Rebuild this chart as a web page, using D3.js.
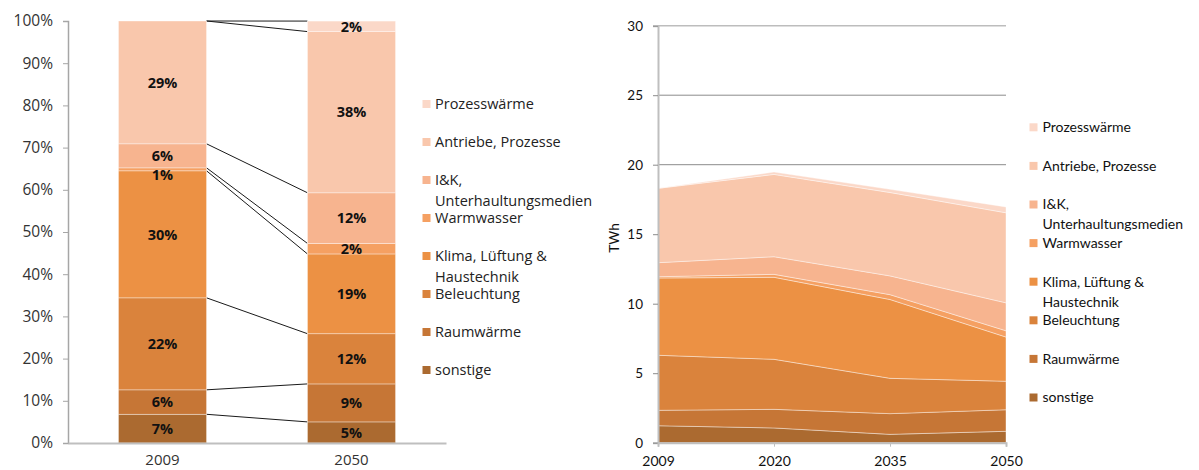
<!DOCTYPE html>
<html>
<head>
<meta charset="utf-8">
<script src="https://cdn.jsdelivr.net/npm/d3@7"></script>
<style>
  html, body { margin: 0; padding: 0; background: #fff; }
  svg { display: block; }
</style>
</head>
<body>
<svg id="chart" width="1199" height="470"></svg>
<script>
// Energy end-use categories, stacked bottom to top
const seriesNames = ["sonstige", "Raumwärme", "Beleuchtung", "Klima, Lüftung & Haustechnik",
  "Warmwasser", "I&K, Unterhaultungsmedien", "Antriebe, Prozesse", "Prozesswärme"];
// Legend text, split into display lines
const legendLines = [["sonstige"], ["Raumwärme"], ["Beleuchtung"], ["Klima, Lüftung &", "Haustechnik"],
  ["Warmwasser"], ["I&K,", "Unterhaultungsmedien"], ["Antriebe, Prozesse"], ["Prozesswärme"]];
const seriesColors = ["#ab6a30", "#c67636", "#da833c", "#ec9144", "#f5a062", "#f7b48f", "#f9c7ac", "#fbd8c8"];

// Left panel: shares in percent
const shareYears = ["2009", "2050"];
const share2009 = [6.8, 5.8, 21.8, 30.1, 0.7, 5.7, 29.1, 0];
const share2050 = [5.0, 9.0, 11.9, 18.9, 2.49, 12.0, 38.2, 2.49];
const shareTicks = [0, 10, 20, 30, 40, 50, 60, 70, 80, 90, 100];

// Right panel: consumption in TWh
const twhYears = ["2009", "2020", "2035", "2050"];
const twhSonstige     = [1.22, 1.06, 0.60, 0.82];
const twhRaumwaerme   = [1.11, 1.34, 1.49, 1.55];
const twhBeleuchtung  = [3.96, 3.60, 2.54, 2.05];
const twhKlima        = [5.56, 5.90, 5.67, 3.18];
const twhWarmwasser   = [0.09, 0.21, 0.35, 0.45];
const twhIK           = [1.01, 1.27, 1.35, 2.01];
const twhAntriebe     = [5.35, 5.92, 6.00, 6.48];
const twhProzess      = [0.00, 0.17, 0.23, 0.42];
const twhTicks = [0, 5, 10, 15, 20, 25, 30];

const svg = d3.select("#chart");
const fontLeft = "'Open Sans', sans-serif";
const fontRight = "Lato, 'Open Sans', sans-serif";

/* ---------------- Left: 100% stacked columns ---------------- */
(function () {
  const x = d3.scaleBand().domain(shareYears).range([68, 446])
    .paddingInner(0.534).paddingOuter(0.267);
  const y = d3.scaleLinear().domain([0, 100]).range([443, 21]);
  const g = svg.append("g");

  const rows = shareYears.map((yr, i) => {
    const vals = i === 0 ? share2009 : share2050;
    const r = { year: yr };
    seriesNames.forEach((s, k) => r[s] = vals[k]);
    return r;
  });
  const stacked = d3.stack().keys(seriesNames)(rows);

  // series connector lines between the column tops
  const bw = x.bandwidth();
  stacked.forEach(layer => {
    g.append("line")
      .attr("x1", x(shareYears[0]) + bw).attr("y1", y(layer[0][1]))
      .attr("x2", x(shareYears[1])).attr("y2", y(layer[1][1]))
      .attr("stroke", "#1a1a1a").attr("stroke-width", 1);
  });

  // column segments
  stacked.forEach((layer, k) => {
    g.append("g").selectAll("rect").data(layer).join("rect")
      .attr("x", d => x(d.data.year))
      .attr("width", bw)
      .attr("y", d => y(d[1]))
      .attr("height", d => Math.max(0, y(d[0]) - y(d[1])))
      .attr("fill", seriesColors[k])
      .attr("stroke", "rgba(255,255,255,0.45)")
      .attr("stroke-width", 0.8);
  });

  // value labels, nudged down where segments are too thin to hold them
  const fmt = v => Math.round(v) + "%";
  shareYears.forEach((yr, i) => {
    const labels = [];
    for (let k = stacked.length - 1; k >= 0; k--) {
      const d = stacked[k][i];
      const v = d[1] - d[0];
      if (v <= 0) continue;
      labels.push({ v, cy: (y(d[0]) + y(d[1])) / 2 });
    }
    for (let j = 1; j < labels.length; j++) {
      labels[j].cy = Math.max(labels[j].cy, labels[j - 1].cy + 19);
    }
    labels.forEach(l => {
      g.append("text")
        .attr("x", x(yr) + bw / 2).attr("y", l.cy)
        .attr("dy", "0.36em")
        .attr("text-anchor", "middle")
        .attr("font-family", fontLeft).attr("font-weight", 700)
        .attr("font-size", 14.5).attr("fill", "#111")
        .text(fmt(l.v));
    });
  });

  // y axis
  const yAxis = g.append("g").attr("transform", "translate(68,0)")
    .call(d3.axisLeft(y).tickValues(shareTicks).tickFormat(d => d + "%").tickSize(5).tickPadding(10));
  yAxis.select(".domain").attr("stroke", "#a6a6a6").attr("stroke-width", 1.5);
  yAxis.selectAll(".tick line").attr("stroke", "#a6a6a6");
  yAxis.selectAll("text").attr("font-family", fontLeft).attr("font-size", 15.5).attr("fill", "#333");

  // x axis
  const xAxis = g.append("g").attr("transform", "translate(0,443)")
    .call(d3.axisBottom(x).tickSize(0).tickPadding(11));
  xAxis.select(".domain").attr("stroke", "#bfbfbf").attr("stroke-width", 2);
  xAxis.selectAll("text").attr("font-family", fontLeft).attr("font-size", 15).attr("fill", "#333");

  // legend
  const lg = g.append("g");
  seriesNames.slice().reverse().forEach((s, j) => {
    const k = seriesNames.length - 1 - j;
    const cy = 104 + j * 38;
    lg.append("rect").attr("x", 422.5).attr("y", cy - 4).attr("width", 8).attr("height", 8)
      .attr("fill", seriesColors[k]);
    legendLines[k].forEach((line, li) => {
      lg.append("text").attr("x", 435).attr("y", cy + 5 + li * 21)
        .attr("font-family", fontLeft).attr("font-size", 14.5).attr("fill", "#222")
        .text(line);
    });
  });
})();

/* ---------------- Right: stacked areas in TWh ---------------- */
(function () {
  const x = d3.scalePoint().domain(twhYears).range([658, 1006]);
  const y = d3.scaleLinear().domain([0, 30]).range([442.7, 25.7]);
  const g = svg.append("g");

  const cols = [twhSonstige, twhRaumwaerme, twhBeleuchtung, twhKlima,
    twhWarmwasser, twhIK, twhAntriebe, twhProzess];
  const rows = twhYears.map((yr, i) => {
    const r = { year: yr };
    seriesNames.forEach((s, k) => r[s] = cols[k][i]);
    return r;
  });
  const stacked = d3.stack().keys(seriesNames)(rows);

  // gridlines
  g.append("g").selectAll("line").data(twhTicks.filter(t => t > 0)).join("line")
    .attr("x1", 658).attr("x2", 1006)
    .attr("y1", d => y(d)).attr("y2", d => y(d))
    .attr("stroke", d => d === 30 ? "#bdbdbd" : "#8c8c8c")
    .attr("stroke-width", d => d === 30 ? 1.5 : 1);

  const area = d3.area()
    .x(d => x(d.data.year))
    .y0(d => y(d[0]))
    .y1(d => y(d[1]));

  g.append("g").selectAll("path").data(stacked).join("path")
    .attr("d", area)
    .attr("fill", (d, k) => seriesColors[k])
    .attr("stroke", "rgba(255,255,255,0.4)")
    .attr("stroke-width", 1);

  // y axis
  const yAxis = g.append("g").attr("transform", "translate(658,0)")
    .call(d3.axisLeft(y).tickValues(twhTicks).tickSize(5).tickPadding(10));
  yAxis.select(".domain").attr("stroke", "#bfbfbf").attr("stroke-width", 2);
  yAxis.selectAll(".tick line").attr("stroke", "#8c8c8c");
  yAxis.selectAll("text").attr("font-family", fontRight).attr("font-size", 13.5).attr("fill", "#111");

  // x axis
  const xAxis = g.append("g").attr("transform", "translate(0,442.7)")
    .call(d3.axisBottom(x).tickSize(4).tickPadding(9));
  xAxis.select(".domain").attr("stroke", "#bfbfbf").attr("stroke-width", 2);
  xAxis.selectAll(".tick line").attr("stroke", "#bfbfbf");
  xAxis.selectAll("text").attr("font-family", fontRight).attr("font-size", 14).attr("fill", "#111");

  // axis title
  g.append("text")
    .attr("transform", "translate(619,238) rotate(-90)")
    .attr("text-anchor", "middle")
    .attr("font-family", fontRight).attr("font-size", 13.5).attr("fill", "#111")
    .text("TWh");

  // legend
  const lg = g.append("g");
  seriesNames.slice().reverse().forEach((s, j) => {
    const k = seriesNames.length - 1 - j;
    const cy = 127.3 + j * 38.6;
    lg.append("rect").attr("x", 1029.5).attr("y", cy - 4).attr("width", 8).attr("height", 8)
      .attr("fill", seriesColors[k]);
    legendLines[k].forEach((line, li) => {
      lg.append("text").attr("x", 1042.5).attr("y", cy + 4.8 + li * 20)
        .attr("font-family", fontRight).attr("font-size", 14).attr("fill", "#111")
        .text(line);
    });
  });
})();
</script>
</body>
</html>
